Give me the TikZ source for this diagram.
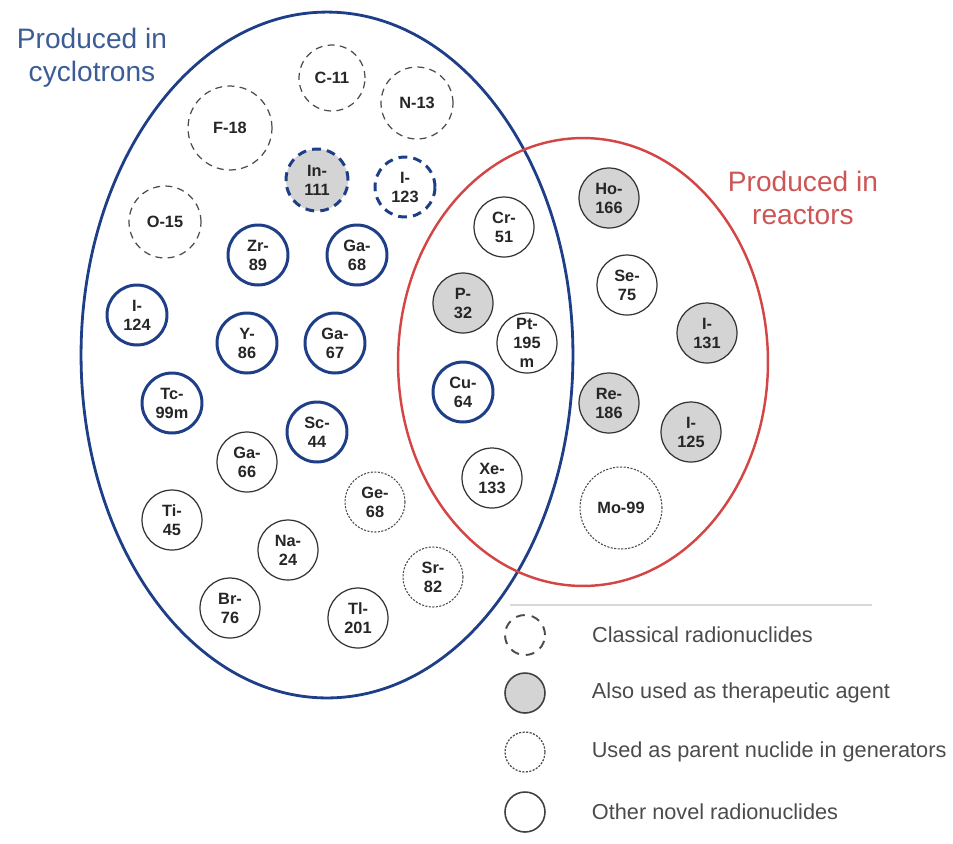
\documentclass[tikz,border=0pt]{standalone}
\usepackage{fontspec}
\setmainfont{Liberation Sans}
\usetikzlibrary{positioning}

\definecolor{cycblue}{RGB}{30,62,135}
\definecolor{cyctext}{RGB}{60,92,150}
\definecolor{reared}{RGB}{212,70,70}
\definecolor{reatext}{RGB}{205,85,85}
\definecolor{nucgray}{RGB}{212,212,212}
\definecolor{legtext}{RGB}{75,75,75}

\begin{document}
\begin{tikzpicture}[x=0.02cm,y=-0.02cm,
  nuc/.style={circle,draw=black!80,line width=0.7pt,fill=white,inner sep=0pt,minimum size=1.2cm,
    align=center,font=\bfseries\fontsize{9.3}{10.8}\selectfont,text=black!85},
  classic/.style={nuc,draw=black!70,dash pattern=on 4pt off 3pt},
  therapy/.style={nuc,fill=nucgray},
  parent/.style={nuc,draw=black!70,line width=0.6pt,dash pattern=on 1.2pt off 0.8pt},
  cyc/.style={nuc,draw=cycblue,line width=1.7pt},
  setlabel/.style={align=center,font=\fontsize{16}{18.7}\selectfont},
  legitem/.style={circle,draw=black!75,line width=0.9pt,fill=white,inner sep=0pt,minimum size=0.8cm},
  legtxt/.style={right=0.8cm of #1,anchor=west,text=legtext,font=\fontsize{12.35}{14}\selectfont}]

\useasboundingbox (0,0) rectangle (953,843);

% the two sets
\draw[cycblue,line width=1.6pt] (327,355) ellipse [x radius=4.92cm,y radius=6.86cm];
\draw[reared,line width=1.4pt] (583,362) ellipse [x radius=3.7cm,y radius=4.48cm];

\node[setlabel,text=cyctext] (cyclab) at (92,58) {Produced in\\cyclotrons};
\node[setlabel,text=reatext] (realab) at (803,198) {Produced in\\reactors};

% cyclotrons only
\node[classic,minimum size=1.32cm] (c11) at (332,78) {C-11};
\node[classic,minimum size=1.44cm] (n13) at (417,103) {N-13};
\node[classic,minimum size=1.68cm] (f18) at (230,128) {F-18};
\node[classic,minimum size=1.44cm] (o15) at (165,222) {O-15};
\node[classic,fill=nucgray,draw=cycblue,line width=1.7pt,dash pattern=on 5pt off 3.5pt,minimum size=1.24cm] (in111) at (317,180) {In-\\111};
\node[classic,draw=cycblue,line width=1.7pt,dash pattern=on 5pt off 3.5pt] (i123) at (405,187) {I-\\123};

\node[cyc] (zr89) at (258,255) {Zr-\\89};
\node[cyc] (ga68) at (357,255) {Ga-\\68};
\node[cyc] (i124) at (137,315) {I-\\124};
\node[cyc] (y86) at (247,343) {Y-\\86};
\node[cyc] (ga67) at (335,343) {Ga-\\67};
\node[cyc] (tc99m) at (172,403) {Tc-\\99m};
\node[cyc] (sc44) at (317,432) {Sc-\\44};

\node[nuc] (ga66) at (247,462) {Ga-\\66};
\node[parent] (ge68) at (375,502) {Ge-\\68};
\node[nuc] (ti45) at (172,520) {Ti-\\45};
\node[nuc] (na24) at (288,550) {Na-\\24};
\node[parent] (sr82) at (433,577) {Sr-\\82};
\node[nuc] (br76) at (230,608) {Br-\\76};
\node[nuc] (tl201) at (358,618) {Tl-\\201};

% both
\node[nuc] (cr51) at (504,227) {Cr-\\51};
\node[therapy] (p32) at (463,303) {P-\\32};
\node[nuc] (pt195m) at (527,343) {Pt-\\195\\m};
\node[cyc] (cu64) at (463,392) {Cu-\\64};
\node[nuc] (xe133) at (492,478) {Xe-\\133};

% reactors only
\node[therapy] (ho166) at (609,198) {Ho-\\166};
\node[nuc] (se75) at (627,285) {Se-\\75};
\node[therapy] (i131) at (707,333) {I-\\131};
\node[therapy] (re186) at (609,403) {Re-\\186};
\node[therapy] (i125) at (691,432) {I-\\125};
\node[parent,minimum size=1.64cm] (mo99) at (621,508) {Mo-99};

% legend
\draw[black!15,line width=0.6pt] (510,605) -- (872,605);
\node[legitem,draw=black!70,line width=1.1pt,dash pattern=on 5pt off 4pt] (leg1) at (525,635) {};
\node[legitem,fill=nucgray] (leg2) at (525,693) {};
\node[legitem,draw=black!70,line width=0.7pt,dash pattern=on 1.2pt off 0.8pt] (leg3) at (525,752) {};
\node[legitem] (leg4) at (525,812) {};
\node[legtxt=leg1] (legt1) {Classical radionuclides};
\node[legtxt=leg2] (legt2) {Also used as therapeutic agent};
\node[legtxt=leg3] (legt3) {Used as parent nuclide in generators};
\node[legtxt=leg4] (legt4) {Other novel radionuclides};
\end{tikzpicture}
\end{document}
